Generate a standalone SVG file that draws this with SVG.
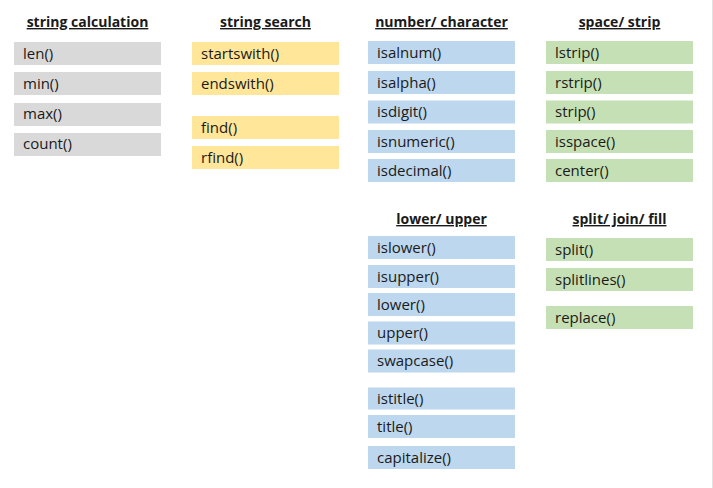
<svg xmlns="http://www.w3.org/2000/svg" width="713" height="488" viewBox="0 0 713 488">
<style>
.t{font-family:"Open Sans","Noto Sans","Liberation Sans",sans-serif;font-size:14px;font-weight:bold;fill:#1a1a1a;text-anchor:middle;text-decoration:underline}
.i{font-family:"Open Sans","Noto Sans","Liberation Sans",sans-serif;font-size:15px;fill:#1a1a1a}
.g{fill:#d9d9d9}.y{fill:#ffe699}.b{fill:#bdd7ee}.n{fill:#c5e0b4}
</style>
<rect width="713" height="488" fill="#ffffff"/>
<line x1="712.5" y1="0" x2="712.5" y2="488" stroke="#e2e2e2" stroke-width="1"/>
<g id="titles">
<text class="t" x="87.5" y="27">string calculation</text>
<text class="t" x="265.5" y="27">string search</text>
<text class="t" x="441.5" y="27">number/ character</text>
<text class="t" x="619.5" y="27">space/ strip</text>
<text class="t" x="441.5" y="224">lower/ upper</text>
<text class="t" x="619.5" y="224">split/ join/ fill</text>
</g>
<g id="string-calculation">
<g id="len"><rect class="g" x="14" y="42" width="147" height="23"/><text class="i" x="23" y="58.5">len()</text></g>
<g id="min"><rect class="g" x="14" y="72" width="147" height="23"/><text class="i" x="23" y="88.5">min()</text></g>
<g id="max"><rect class="g" x="14" y="103" width="147" height="23"/><text class="i" x="23" y="119">max()</text></g>
<g id="count"><rect class="g" x="14" y="133" width="147" height="23"/><text class="i" x="23" y="149">count()</text></g>
</g>
<g id="string-search">
<g id="startswith"><rect class="y" x="192" y="42" width="147" height="23"/><text class="i" x="201" y="58.5">startswith()</text></g>
<g id="endswith"><rect class="y" x="192" y="72" width="147" height="23"/><text class="i" x="201" y="88.5">endswith()</text></g>
<g id="find"><rect class="y" x="192" y="116" width="147" height="23"/><text class="i" x="201" y="132.5">find()</text></g>
<g id="rfind"><rect class="y" x="192" y="146" width="147" height="23"/><text class="i" x="201" y="162.5">rfind()</text></g>
</g>
<g id="number-character">
<g id="isalnum"><rect class="b" x="368" y="41" width="147" height="23"/><text class="i" x="377" y="57.5">isalnum()</text></g>
<g id="isalpha"><rect class="b" x="368" y="71" width="147" height="23"/><text class="i" x="377" y="87.5">isalpha()</text></g>
<g id="isdigit"><rect class="b" x="368" y="100.5" width="147" height="23"/><text class="i" x="377" y="117">isdigit()</text></g>
<g id="isnumeric"><rect class="b" x="368" y="130" width="147" height="23"/><text class="i" x="377" y="146.5">isnumeric()</text></g>
<g id="isdecimal"><rect class="b" x="368" y="159" width="147" height="23"/><text class="i" x="377" y="175.5">isdecimal()</text></g>
</g>
<g id="space-strip">
<g id="lstrip"><rect class="n" x="546" y="41" width="147" height="23"/><text class="i" x="555" y="57.5">lstrip()</text></g>
<g id="rstrip"><rect class="n" x="546" y="71" width="147" height="23"/><text class="i" x="555" y="87.5">rstrip()</text></g>
<g id="strip"><rect class="n" x="546" y="100.5" width="147" height="23"/><text class="i" x="555" y="117">strip()</text></g>
<g id="isspace"><rect class="n" x="546" y="130" width="147" height="23"/><text class="i" x="555" y="146.5">isspace()</text></g>
<g id="center"><rect class="n" x="546" y="159" width="147" height="23"/><text class="i" x="555" y="175.5">center()</text></g>
</g>
<g id="lower-upper">
<g id="islower"><rect class="b" x="368" y="236" width="147" height="23"/><text class="i" x="377" y="252.5">islower()</text></g>
<g id="isupper"><rect class="b" x="368" y="265" width="147" height="23"/><text class="i" x="377" y="281.5">isupper()</text></g>
<g id="lower"><rect class="b" x="368" y="293" width="147" height="23"/><text class="i" x="377" y="309.5">lower()</text></g>
<g id="upper"><rect class="b" x="368" y="321.5" width="147" height="23"/><text class="i" x="377" y="338">upper()</text></g>
<g id="swapcase"><rect class="b" x="368" y="349.5" width="147" height="23"/><text class="i" x="377" y="366">swapcase()</text></g>
<g id="istitle"><rect class="b" x="368" y="387.5" width="147" height="22"/><text class="i" x="377" y="403.5">istitle()</text></g>
<g id="title"><rect class="b" x="368" y="415" width="147" height="23"/><text class="i" x="377" y="431.5">title()</text></g>
<g id="capitalize"><rect class="b" x="368" y="446" width="147" height="23"/><text class="i" x="377" y="462.5">capitalize()</text></g>
</g>
<g id="split-join-fill">
<g id="split"><rect class="n" x="546" y="238" width="147" height="23"/><text class="i" x="555" y="254.5">split()</text></g>
<g id="splitlines"><rect class="n" x="546" y="268" width="147" height="23"/><text class="i" x="555" y="284.5">splitlines()</text></g>
<g id="replace"><rect class="n" x="546" y="306" width="147" height="23"/><text class="i" x="555" y="322.5">replace()</text></g>
</g>
<g id="connectors"/>
</svg>
